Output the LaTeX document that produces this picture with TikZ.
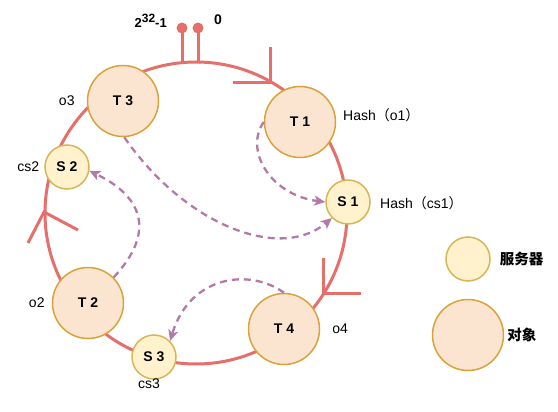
\documentclass[tikz,border=0pt]{standalone}
\usepackage{fontspec}
\setmainfont{Liberation Sans}
\newfontfamily\cjk{Noto Sans CJK SC}
\usetikzlibrary{arrows.meta,positioning}
\definecolor{RingRed}{HTML}{E46F6B}
\definecolor{ServerFill}{HTML}{FFF2CC}
\definecolor{ServerDraw}{HTML}{D6B656}
\definecolor{ObjectFill}{HTML}{FBE5D1}
\definecolor{ObjectDraw}{HTML}{D9A23A}
\definecolor{FlowPurple}{HTML}{B27AA8}

\begin{document}
\begin{tikzpicture}[
  x=1pt,y=-1pt,
  object/.style={circle,draw=ObjectDraw,fill=ObjectFill,line width=1.5pt,minimum size=71pt,inner sep=0pt,font=\fontsize{14}{16}\selectfont\bfseries},
  server/.style={circle,draw=ServerDraw,fill=ServerFill,line width=1.5pt,minimum size=44pt,inner sep=0pt,font=\fontsize{14}{16}\selectfont\bfseries},
  ringline/.style={draw=RingRed,line width=3pt},
  stemdot/.style={circle,fill=RingRed,minimum size=11pt,inner sep=0pt},
  hashflow/.style={draw=FlowPurple,line width=2.3pt,dash pattern=on 7pt off 5pt,-{Stealth[length=11pt,width=10pt,inset=3pt]}},
  tag/.style={inner sep=0pt,font=\fontsize{14}{16}\selectfont}
]
  \useasboundingbox (0,0) rectangle (558,412);
  % hash ring with direction marks
  \draw[ringline] (196,213) circle[radius=151];
  \draw[ringline] (270,47) -- (270,83) -- (233,83);
  \draw[ringline] (78,230) -- (44,212) -- (28,243);
  \draw[ringline] (323,258) -- (323,293) -- (361,293);
  % 2^32-1 and 0
  \node[stemdot] (wrap) at (182,28) {};
  \node[stemdot] (zero) at (198,28) {};
  \coordinate (wrapfoot) at (182,63);
  \coordinate (zerofoot) at (198,63);
  \draw[ringline] (wrap.center) -- (wrapfoot);
  \draw[ringline] (zero.center) -- (zerofoot);
  \node[tag,anchor=east,font=\fontsize{13}{15}\selectfont\bfseries] (maxval) at (167,21) {2\raisebox{5pt}{\fontsize{12}{14}\selectfont 32}-1};
  \node[tag,font=\fontsize{14}{16}\selectfont\bfseries] (zeroval) at (218,20) {0};
  % objects and servers
  \node[object] (t1) at (300,122) {T 1};
  \node[object] (t3) at (123,101) {T 3};
  \node[object] (t2) at (88,303) {T 2};
  \node[object] (t4) at (284,329) {T 4};
  \node[server] (s1) at (348,202) {S 1};
  \node[server] (s2) at (67,167) {S 2};
  \node[server] (s3) at (154,357) {S 3};
  % labels
  \node[tag,left=12pt of t3] (o3) {o3};
  \node[tag,left=5pt of s2] (cs2) {cs2};
  \node[tag,left=7pt of t2] (o2) {o2};
  \node[tag] (cs3) at (149,384) {cs3};
  \node[tag,right=12pt of t4] (o4) {o4};
  \node[tag,anchor=west] (hash1) at (343,115) {Hash{\cjk（}o1{\cjk）}};
  \node[tag,anchor=west] (hash2) at (380,203) {Hash{\cjk（}cs1{\cjk）}};
  % mapping
  \draw[hashflow] (t1.west) .. controls (244,150) and (270,195) .. (s1.west);
  \draw[hashflow] (t3.-88) .. controls (185,225) and (280,262) .. (s1.-135);
  \draw[hashflow] (t2.45) .. controls (158,230) and (140,195) .. (s2.-10);
  \draw[hashflow] (t4.north) .. controls (250,268) and (190,275) .. (s3.45);
  % legend
  \node[server] (keyserver) at (468,259) {};
  \node[tag,right=9pt of keyserver,font=\cjk\bfseries\fontsize{14.5}{16}\selectfont] (keyserverlbl) {服务器};
  \node[object] (keyobject) at (468,335) {};
  \node[tag,right=3pt of keyobject,font=\cjk\bfseries\fontsize{14.5}{16}\selectfont] (keyobjectlbl) {对象};
\end{tikzpicture}
\end{document}
